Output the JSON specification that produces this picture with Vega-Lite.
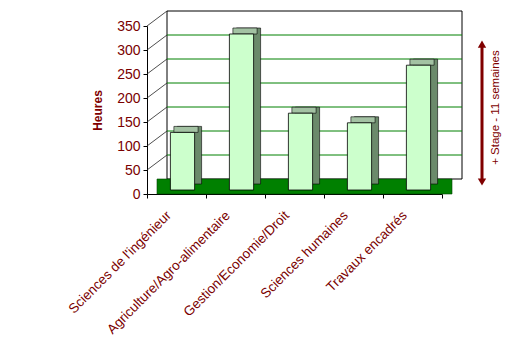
{
  "$schema": "https://vega.github.io/schema/vega-lite/v6.json",
  "width": 295,
  "height": 168,
  "autosize": {"type": "none"},
  "padding": {"left": 147, "top": 26, "right": 72, "bottom": 152},
  "background": "white",
  "config": {
    "view": {"stroke": null},
    "font": "Liberation Sans",
    "axis": {"labelFont": "Liberation Sans", "titleFont": "Liberation Sans"},
    "axisY": {
      "titleColor": "#800000", "titleFontWeight": "bold", "titleFontSize": 12, "titlePadding": 12,
      "tickCount": 7, "labelColor": "#7a0000", "labelFontSize": 14, "labelFontWeight": "normal",
      "labelPadding": 3, "tickSize": 4, "domainColor": "black", "tickColor": "black", "grid": false,
      "labelOverlap": false
    }
  },
  "datasets": {
    "heures": [
      {"matiere": "Sciences de l'ingénieur", "heures": 120},
      {"matiere": "Agriculture/Agro-alimentaire", "heures": 325},
      {"matiere": "Gestion/Economie/Droit", "heures": 160},
      {"matiere": "Sciences humaines", "heures": 140},
      {"matiere": "Travaux encadrés", "heures": 260}
    ],
    "graduations": [
      {"v": 50}, {"v": 100}, {"v": 150}, {"v": 200}, {"v": 250}, {"v": 300}, {"v": 350}
    ],
    "stage": [
      {"note": "+ Stage - 11 semaines", "debut": 25, "fin": 312}
    ]
  },
  "resolve": {"scale": {"x": "independent"}, "axis": {"x": "independent"}},
  "layer": [
    {
      "data": {"name": "stage"},
      "mark": {"type": "rect", "fill": "white", "stroke": "black", "strokeWidth": 1, "xOffset": 20, "x2Offset": 20, "yOffset": -15, "y2Offset": -15},
      "encoding": {
        "x": {"datum": 0, "type": "quantitative", "scale": {"domain": [0, 1]}, "axis": null},
        "x2": {"datum": 1},
        "y": {"datum": 350, "type": "quantitative", "scale": {"domain": [0, 350], "nice": false}, "title": "Heures"},
        "y2": {"datum": 0}
      }
    },
    {
      "data": {"name": "graduations"},
      "transform": [{"filter": "datum.v < 350"}],
      "mark": {"type": "rule", "color": "#008000", "strokeWidth": 1, "xOffset": 20, "x2Offset": 20, "yOffset": -15},
      "encoding": {
        "x": {"datum": 0, "type": "quantitative", "scale": {"domain": [0, 1]}, "axis": null},
        "x2": {"datum": 1},
        "y": {"field": "v", "type": "quantitative", "scale": {"domain": [0, 350], "nice": false}, "title": "Heures"}
      }
    },
    {
      "data": {"name": "graduations"},
      "mark": {"type": "rule", "color": "#222222", "strokeWidth": 0.8, "x2Offset": 20, "y2Offset": -15},
      "encoding": {
        "x": {"datum": 0, "type": "quantitative", "scale": {"domain": [0, 1]}, "axis": null},
        "x2": {"datum": 0},
        "y": {"field": "v", "type": "quantitative", "scale": {"domain": [0, 350], "nice": false}, "title": "Heures"},
        "y2": {"field": "v"}
      }
    },
    {
      "data": {"name": "stage"},
      "mark": {"type": "rect", "fill": "#008000", "stroke": "#004000", "strokeWidth": 0.6, "xOffset": 10, "x2Offset": 10, "y2Offset": -15},
      "encoding": {
        "x": {"datum": 0, "type": "quantitative", "scale": {"domain": [0, 1]}, "axis": null},
        "x2": {"datum": 1},
        "y": {"datum": 0, "type": "quantitative", "scale": {"domain": [0, 350], "nice": false}, "title": "Heures"},
        "y2": {"datum": 0}
      }
    },
    {
      "data": {"name": "heures"},
      "encoding": {
        "x": {
          "field": "matiere", "type": "nominal", "sort": null,
          "scale": {"paddingInner": 0, "paddingOuter": 0},
          "axis": {
            "title": null, "labelAngle": -45, "labelAlign": "right", "labelBaseline": "middle",
            "labelFontSize": 13.5, "labelColor": "#7a0000", "tickBand": "extent", "tickColor": "black",
            "tickSize": 4, "domainColor": "black", "labelPadding": 15, "labelOffset": -8,
            "labelLimit": 300, "labelOverlap": false
          }
        },
        "y": {
          "field": "heures", "type": "quantitative", "scale": {"domain": [0, 350], "nice": false},
          "title": "Heures"
        }
      },
      "layer": [
        {
          "mark": {"type": "bar", "color": "#6b8a6b", "stroke": "black", "strokeWidth": 0.6, "width": {"band": 0.41}, "xOffset": 13, "x2Offset": 13, "yOffset": -10, "y2Offset": -10},
          "encoding": {"y2": {"datum": 0}}
        },
        {
          "mark": {"type": "bar", "color": "#a3c2a3", "stroke": "black", "strokeWidth": 0.6, "width": {"band": 0.41}, "xOffset": 9.5, "x2Offset": 9.5, "yOffset": -4, "y2Offset": -10},
          "encoding": {"y2": {"field": "heures"}}
        },
        {
          "mark": {"type": "bar", "color": "#ccffcc", "stroke": "black", "strokeWidth": 0.8, "width": {"band": 0.41}, "xOffset": 6, "x2Offset": 6, "yOffset": -4, "y2Offset": -4},
          "encoding": {"y2": {"datum": 0}}
        }
      ]
    },
    {
      "data": {"name": "stage"},
      "mark": {"type": "rule", "color": "#800000", "strokeWidth": 3, "xOffset": 40},
      "encoding": {
        "x": {"datum": 1, "type": "quantitative", "scale": {"domain": [0, 1]}, "axis": null},
        "y": {"field": "debut", "type": "quantitative", "scale": {"domain": [0, 350], "nice": false}, "title": "Heures"},
        "y2": {"field": "fin"}
      }
    },
    {
      "data": {"name": "stage"},
      "mark": {"type": "point", "shape": "triangle-up", "size": 70, "filled": true, "color": "#800000", "opacity": 1, "xOffset": 40},
      "encoding": {
        "x": {"datum": 1, "type": "quantitative", "scale": {"domain": [0, 1]}, "axis": null},
        "y": {"field": "fin", "type": "quantitative", "scale": {"domain": [0, 350], "nice": false}, "title": "Heures"}
      }
    },
    {
      "data": {"name": "stage"},
      "mark": {"type": "point", "shape": "triangle-down", "size": 70, "filled": true, "color": "#800000", "opacity": 1, "xOffset": 40},
      "encoding": {
        "x": {"datum": 1, "type": "quantitative", "scale": {"domain": [0, 1]}, "axis": null},
        "y": {"field": "debut", "type": "quantitative", "scale": {"domain": [0, 350], "nice": false}, "title": "Heures"}
      }
    },
    {
      "data": {"name": "stage"},
      "mark": {"type": "text", "angle": 270, "fontSize": 11.5, "color": "#800000", "align": "center", "baseline": "middle", "xOffset": 54},
      "encoding": {
        "x": {"datum": 1, "type": "quantitative", "scale": {"domain": [0, 1]}, "axis": null},
        "y": {"datum": 180, "type": "quantitative", "scale": {"domain": [0, 350], "nice": false}, "title": "Heures"},
        "text": {"field": "note"}
      }
    }
  ]
}
